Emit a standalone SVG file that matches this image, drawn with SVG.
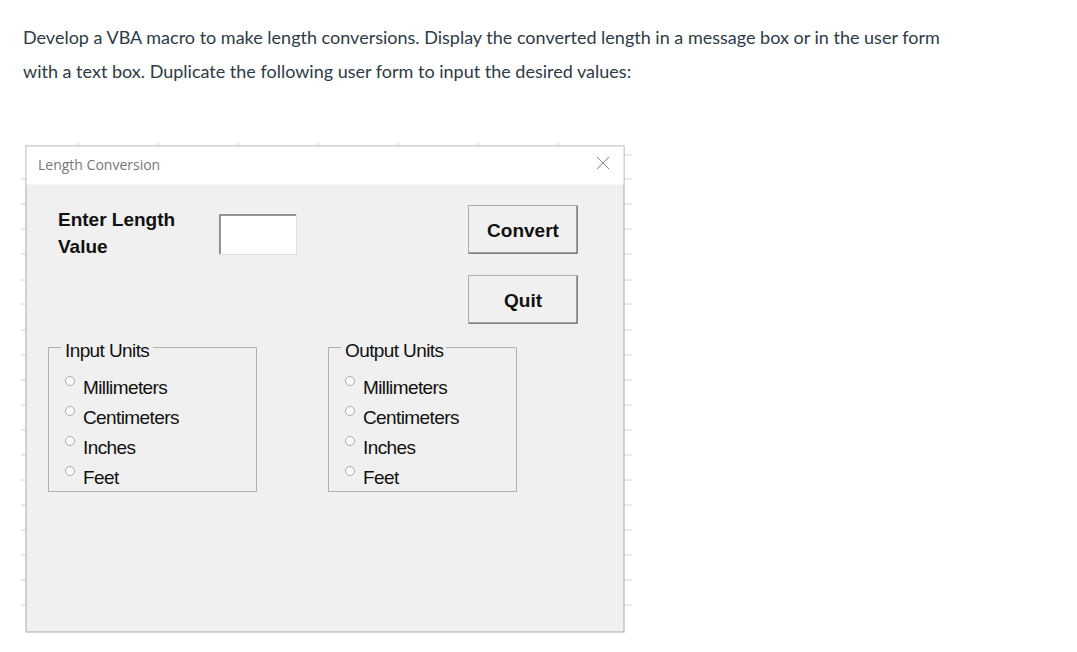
<svg xmlns="http://www.w3.org/2000/svg" width="1077" height="652" viewBox="0 0 1077 652">
<style>
.p{font-family:Lato,"Open Sans",sans-serif;font-size:18px;fill:#2d3b45}
.b{font-family:"Liberation Sans",Arial,sans-serif;font-weight:bold;font-size:19px;fill:#111}
.r{font-family:"Liberation Sans",Arial,sans-serif;font-size:19px;fill:#111;letter-spacing:-0.6px}
.g{stroke:#d4d4d4;stroke-width:1}
.btn{fill:#f0f0f0;stroke:#adadad}
.rad{fill:#fff;stroke:#aaa;stroke-width:1}
.fs{fill:none;stroke:#b0b0b0}
</style>
<rect width="1077" height="652" fill="#fff"/>
<text class="p" x="23" y="44">Develop a VBA macro to make length conversions. Display the converted length in a message box or  in the user form</text>
<text class="p" x="23" y="78">with a text box. Duplicate the following user form to input the desired values:</text>
<g id="grid">
<path class="g" d="M78 142V146M158 142V146M238 142V146M318 142V146M398 142V146M478 142V146M558 142V146"/>
<path class="g" d="M21 179H26M21 204H26M21 229H26M21 254H26M21 280H26M21 304H26M21 330H26M21 355H26M21 380H26M21 405H26M21 430H26M21 455H26M21 480H26M21 505H26M21 530H26M21 555H26M21 580H26M21 605H26"/>
<path class="g" d="M624 155H632M624 179H632M624 204H632M624 229H632M624 254H632M624 280H632M624 304H632M624 330H632M624 355H632M624 380H632M624 405H632M624 430H632M624 455H632M624 480H632M624 505H632M624 530H632M624 555H632M624 580H632M624 605H632"/>
</g>
<g id="window">
<rect x="26" y="146" width="598" height="486" fill="#f0f0f0" stroke="#aaa"/>
<rect x="26.5" y="146.5" width="597" height="38" fill="#fff"/>
<text x="38" y="170" font-family="'Open Sans',Lato,sans-serif" font-size="14" fill="#777">Length Conversion</text>
<path d="M597 157L609 169M609 157L597 169" stroke="#888" stroke-width="1"/>
</g>
<g id="label"><text class="b" x="58" y="226">Enter Length</text><text class="b" x="58" y="253">Value</text></g>
<g id="textbox"><rect x="219.5" y="214.5" width="77" height="40" fill="#fff" stroke="#ddd"/><path d="M220 254V215H296" fill="none" stroke="#777" stroke-width="1.5"/></g>
<g id="convert"><rect class="btn" x="468.5" y="205.5" width="109" height="48"/><path d="M469 253H577V206" fill="none" stroke="#555"/><text class="b" x="523" y="237" text-anchor="middle">Convert</text></g>
<g id="quit"><rect class="btn" x="468.5" y="275.5" width="109" height="48"/><path d="M469 323H577V276" fill="none" stroke="#555"/><text class="b" x="523" y="307" text-anchor="middle">Quit</text></g>
<g id="input">
<path class="fs" d="M61 347.5H48.5V491.5H256.5V347.5H153"/>
<text class="r" x="65" y="357">Input Units</text>
<circle class="rad" cx="70" cy="381" r="4.5"/><text class="r" x="83" y="394">Millimeters</text>
<circle class="rad" cx="70" cy="411" r="4.5"/><text class="r" x="83" y="424">Centimeters</text>
<circle class="rad" cx="70" cy="441" r="4.5"/><text class="r" x="83" y="454">Inches</text>
<circle class="rad" cx="70" cy="471" r="4.5"/><text class="r" x="83" y="484">Feet</text>
</g>
<g id="output">
<path class="fs" d="M341 347.5H328.5V491.5H516.5V347.5H446"/>
<text class="r" x="345" y="357">Output Units</text>
<circle class="rad" cx="350" cy="381" r="4.5"/><text class="r" x="363" y="394">Millimeters</text>
<circle class="rad" cx="350" cy="411" r="4.5"/><text class="r" x="363" y="424">Centimeters</text>
<circle class="rad" cx="350" cy="441" r="4.5"/><text class="r" x="363" y="454">Inches</text>
<circle class="rad" cx="350" cy="471" r="4.5"/><text class="r" x="363" y="484">Feet</text>
</g>
<g id="connectors"/>
</svg>
